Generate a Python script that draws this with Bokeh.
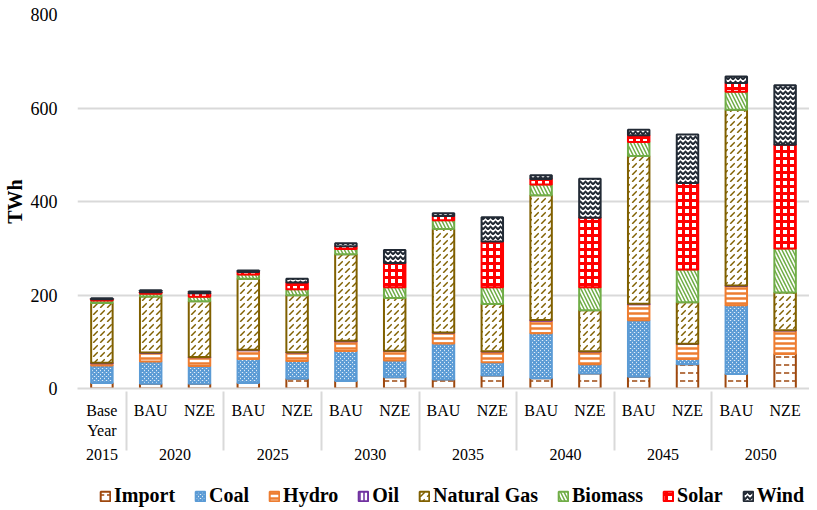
from bokeh.plotting import figure
from bokeh.layouts import column
from bokeh.models import FactorRange, Legend, LegendItem, ColumnDataSource, FixedTicker
from bokeh.embed import file_html
from bokeh.resources import INLINE

years = ["2015", "2020", "2020", "2025", "2025", "2030", "2030", "2035", "2035",
         "2040", "2040", "2045", "2045", "2050", "2050"]
scenarios = ["Base\nYear", "BAU", "NZE", "BAU", "NZE", "BAU", "NZE", "BAU", "NZE",
             "BAU", "NZE", "BAU", "NZE", "BAU", "NZE"]

imports = [12, 10, 10, 12, 21, 16, 24, 19, 28, 22, 32, 25, 52, 31, 74]
coal = [37, 48, 38, 51, 38, 64, 36, 77, 28, 96, 20, 121, 11, 147, 0]
hydro = [5, 18, 19, 19, 18, 21, 20, 23, 23, 27, 27, 34, 32, 41, 50]
oil = [1, 1, 0.5, 1, 0.5, 1, 0.5, 1, 0.5, 1.5, 0.5, 1.5, 0.5, 1.5, 0.5]
natural_gas = [128, 120, 119, 152, 122, 185, 113, 221, 101, 267, 88, 316, 89, 376, 81]
biomass = [5, 5.5, 10, 9, 13, 11.5, 23, 19, 36, 23, 49, 30, 70, 38, 94]
solar = [3, 3.5, 7, 5, 14, 6, 52, 9, 98, 11.5, 149, 14, 185, 19, 222]
wind = [2, 4, 4, 3.5, 8, 6, 28, 6, 52, 8, 83, 12, 104, 14, 127]

names = ["Import", "Coal", "Hydro", "Oil", "Natural Gas", "Biomass", "Solar", "Wind"]
keys = ["imp", "coal", "hydro", "oil", "gas", "bio", "solar", "wind"]
colors = ["#9E480E", "#5B9BD5", "#ED7D31", "#7030A0", "#806000", "#70AD47", "#FF0000", "#222A35"]
patterns = ['"', "x", "-", "|", ",", "\\", "+", "v"]
scales = [8, 4, 5, 4, 7, 7, 7, 5]
weights = [1.5, 2, 2.5, 1.5, 1.5, 1.5, 3, 2]

factors = list(zip(years, scenarios))
data = dict(x=factors, imp=imports, coal=coal, hydro=hydro, oil=oil,
            gas=natural_gas, bio=biomass, solar=solar, wind=wind)
src = ColumnDataSource(data)

SERIF = "Liberation Serif"
style = dict(fill_color="white", line_color=colors, line_width=2,
             hatch_pattern=patterns, hatch_color=colors,
             hatch_scale=scales, hatch_weight=weights)

xr = FactorRange(*factors, factor_padding=0, group_padding=0, range_padding=0)

p = figure(x_range=xr, y_range=(0, 800), width=809, height=472,
           output_backend="svg", toolbar_location=None,
           min_border_left=76, min_border_right=0, min_border_top=14, min_border_bottom=84)

rs = p.vbar_stack(keys, x="x", width=0.44, source=src, **style)

p.outline_line_color = None
p.xgrid.grid_line_color = None
p.ygrid.grid_line_color = "#d9d9d9"
p.ygrid.grid_line_width = 2

p.yaxis.ticker = FixedTicker(ticks=[0, 200, 400, 600, 800])
p.yaxis.axis_line_color = None
p.yaxis.major_tick_line_color = None
p.yaxis.minor_tick_line_color = None
p.yaxis.major_label_text_font = SERIF
p.yaxis.major_label_text_font_size = "18px"
p.yaxis.major_label_text_color = "black"
p.yaxis.major_label_standoff = 14
p.yaxis.axis_label = "TWh"
p.yaxis.axis_label_text_font = SERIF
p.yaxis.axis_label_text_font_size = "20px"
p.yaxis.axis_label_text_font_style = "bold"
p.yaxis.axis_label_text_color = "black"
p.yaxis.axis_label_standoff = 2

xa = p.xaxis[0]
xa.axis_line_color = "#d9d9d9"
xa.axis_line_width = 2
xa.major_tick_line_color = None
xa.minor_tick_line_color = None
xa.major_label_text_font = SERIF
xa.major_label_text_font_size = "16px"
xa.major_label_text_color = "black"
xa.major_label_standoff = 7
xa.group_text_font = SERIF
xa.group_text_font_size = "16px"
xa.group_text_color = "black"
xa.group_text_font_style = "normal"
xa.separator_line_color = "#d9d9d9"
xa.separator_line_width = 2

# legend strip below the chart: same series styles, hidden renderers
lf = figure(x_range=xr, y_range=(0, 1), width=809, height=36,
            output_backend="svg", toolbar_location=None,
            min_border_left=76, min_border_right=0, min_border_top=0, min_border_bottom=0)
lrs = lf.vbar_stack(keys, x="x", width=0.44, source=src, **style)
for r in lrs:
    r.visible = False
lf.axis.visible = False
lf.grid.visible = False
lf.outline_line_color = None

legend = Legend(items=[LegendItem(label=n, renderers=[r]) for n, r in zip(names, lrs)],
                orientation="horizontal", location=(22, 1),
                label_text_font=SERIF, label_text_font_size="20px",
                label_text_font_style="bold", label_text_color="black",
                glyph_width=12, glyph_height=12, label_standoff=3, spacing=19,
                padding=3, margin=0, border_line_color=None, background_fill_alpha=0,
                inactive_fill_alpha=0)
lf.add_layout(legend, "center")

open("out.html", "w").write(file_html(column(p, lf, spacing=0), INLINE))
